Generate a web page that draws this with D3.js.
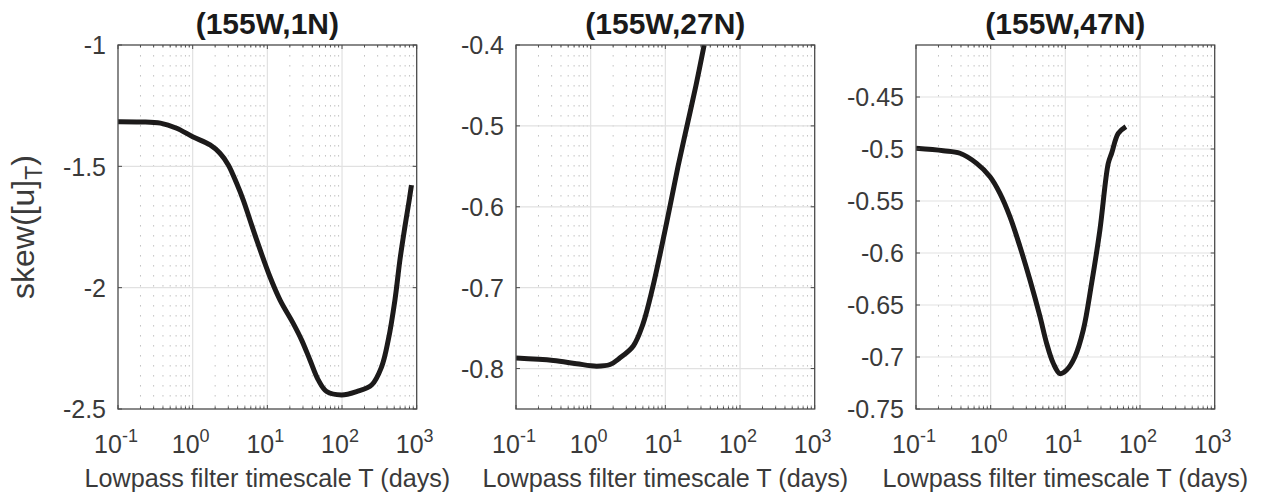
<!DOCTYPE html>
<html><head><meta charset="utf-8">
<script src="https://cdn.jsdelivr.net/npm/d3@7"></script>
<style>
body{margin:0;background:#fff}
svg{display:block}
text{font-family:"Liberation Sans",Arial,Helvetica,sans-serif}
</style>
</head><body>
<svg id="chart" width="1261" height="494"></svg>
<script>
// ---------- data ----------
const titles = ["(155W,1N)", "(155W,27N)", "(155W,47N)"];
const xLabel = "Lowpass filter timescale T (days)";
const xTickValues = [0.1, 1, 10, 100, 1000];
const xTickExponents = ["-1", "0", "1", "2", "3"];

// (155W,1N)
const T1 = [0.1, 0.2, 0.37, 0.61, 1.0, 1.71, 2.32, 3.0, 3.88, 4.76, 5.85, 7.19, 10.8, 14.8, 22.2, 28.8, 37.2, 48, 62.2, 98.9, 157, 249, 339, 416, 511, 596, 695, 794, 851];
const Y1 = [-1.316, -1.317, -1.322, -1.343, -1.378, -1.412, -1.446, -1.494, -1.570, -1.639, -1.721, -1.803, -1.954, -2.051, -2.147, -2.216, -2.298, -2.380, -2.428, -2.442, -2.428, -2.401, -2.326, -2.216, -2.051, -1.886, -1.749, -1.639, -1.577];
const yDomain1 = [-2.5, -1];
const yTicks1 = [-2.5, -2, -1.5, -1];
const yTickLabels1 = ["-2.5", "-2", "-1.5", "-1"];

// (155W,27N)
const T2 = [0.1, 0.316, 0.646, 1.2, 1.82, 2.45, 3.72, 5.01, 6.76, 9.12, 11.5, 14.8, 19.5, 25.7, 33.1];
const Y2 = [-0.787, -0.790, -0.794, -0.797, -0.795, -0.787, -0.772, -0.745, -0.700, -0.645, -0.600, -0.550, -0.500, -0.450, -0.400];
const yDomain2 = [-0.85, -0.4];
const yTicks2 = [-0.8, -0.7, -0.6, -0.5, -0.4];
const yTickLabels2 = ["-0.8", "-0.7", "-0.6", "-0.5", "-0.4"];

// (155W,47N)
const T3 = [0.1, 0.232, 0.388, 0.649, 0.98, 1.33, 1.81, 2.47, 3.36, 4.57, 5.62, 6.89, 8.47, 10.4, 13.4, 17.4, 22.5, 29.0, 37.5, 41.7, 51.1, 64.7];
const Y3 = [-0.4993, -0.5016, -0.5041, -0.5138, -0.5266, -0.5426, -0.565, -0.594, -0.626, -0.661, -0.687, -0.706, -0.716, -0.7125, -0.700, -0.674, -0.629, -0.578, -0.514, -0.504, -0.485, -0.4785];
const yDomain3 = [-0.75, -0.4];
const yTicks3 = [-0.75, -0.7, -0.65, -0.6, -0.55, -0.5, -0.45];
const yTickLabels3 = ["-0.75", "-0.7", "-0.65", "-0.6", "-0.55", "-0.5", "-0.45"];

const yLabelMain = "skew([u]";
const yLabelSub = "T";
const yLabelEnd = ")";

// ---------- layout ----------
const svg = d3.select("#chart");
const plotTop = 45, plotBottom = 409, plotW = 298.7;
const panels = [
  {title: titles[0], T: T1, Y: Y1, yDomain: yDomain1, yTicks: yTicks1, yLabels: yTickLabels1, left: 118},
  {title: titles[1], T: T2, Y: Y2, yDomain: yDomain2, yTicks: yTicks2, yLabels: yTickLabels2, left: 516},
  {title: titles[2], T: T3, Y: Y3, yDomain: yDomain3, yTicks: yTicks3, yLabels: yTickLabels3, left: 916}
];
const axisColor = "#4a4a4a";
const textColor = "#3a3a3a";

const minorTicks = [];
for (let e = -1; e < 3; e++) for (let k = 2; k <= 9; k++) minorTicks.push(k * Math.pow(10, e));

panels.forEach((p, i) => {
  const x = d3.scaleLog().domain([0.1, 1000]).range([p.left, p.left + plotW]);
  const y = d3.scaleLinear().domain(p.yDomain).range([plotBottom, plotTop]);
  const g = svg.append("g");

  g.append("clipPath").attr("id", "clip" + i)
    .append("rect").attr("x", p.left).attr("y", plotTop)
    .attr("width", plotW).attr("height", plotBottom - plotTop);

  // minor grid (dotted)
  g.append("g").selectAll("line").data(minorTicks).join("line")
    .attr("x1", d => x(d)).attr("x2", d => x(d))
    .attr("y1", plotTop).attr("y2", plotBottom)
    .attr("stroke", "#c4c4c4").attr("stroke-width", 1)
    .attr("stroke-dasharray", "1.6,8.4");

  // major grid
  g.append("g").selectAll("line").data(xTickValues.slice(1, -1)).join("line")
    .attr("x1", d => x(d)).attr("x2", d => x(d))
    .attr("y1", plotTop).attr("y2", plotBottom)
    .attr("stroke", "#e1e1e1").attr("stroke-width", 1.2);
  g.append("g").selectAll("line").data(p.yTicks.filter(v => v > p.yDomain[0] && v < p.yDomain[1])).join("line")
    .attr("x1", p.left).attr("x2", p.left + plotW)
    .attr("y1", d => y(d)).attr("y2", d => y(d))
    .attr("stroke", "#e1e1e1").attr("stroke-width", 1.2);

  // curve
  const pts = p.T.map((t, j) => [t, p.Y[j]]);
  const line = d3.line().x(d => x(d[0])).y(d => y(d[1])).curve(d3.curveCatmullRom.alpha(0.5));
  g.append("path").datum(pts).attr("d", line)
    .attr("clip-path", `url(#clip${i})`)
    .attr("fill", "none").attr("stroke", "#1c1a1a").attr("stroke-width", 5)
    .attr("stroke-linejoin", "round").attr("stroke-linecap", "butt");

  // ticks: x major and minor, bottom and top (inward)
  const tk = g.append("g").attr("stroke", axisColor).attr("stroke-width", 1);
  xTickValues.forEach(v => {
    tk.append("line").attr("x1", x(v)).attr("x2", x(v)).attr("y1", plotBottom).attr("y2", plotBottom - 4);
    tk.append("line").attr("x1", x(v)).attr("x2", x(v)).attr("y1", plotTop).attr("y2", plotTop + 4);
  });
  minorTicks.forEach(v => {
    tk.append("line").attr("x1", x(v)).attr("x2", x(v)).attr("y1", plotBottom).attr("y2", plotBottom - 2.5);
    tk.append("line").attr("x1", x(v)).attr("x2", x(v)).attr("y1", plotTop).attr("y2", plotTop + 2.5);
  });
  p.yTicks.forEach(v => {
    tk.append("line").attr("x1", p.left).attr("x2", p.left + 4).attr("y1", y(v)).attr("y2", y(v));
    tk.append("line").attr("x1", p.left + plotW).attr("x2", p.left + plotW - 4).attr("y1", y(v)).attr("y2", y(v));
  });

  // box
  g.append("rect").attr("x", p.left).attr("y", plotTop)
    .attr("width", plotW).attr("height", plotBottom - plotTop)
    .attr("fill", "none").attr("stroke", axisColor).attr("stroke-width", 1.3);

  // y tick labels
  g.append("g").selectAll("text").data(p.yTicks).join("text")
    .attr("x", p.left - 12).attr("y", d => y(d) + 9.3)
    .attr("text-anchor", "end").attr("font-size", 25).attr("fill", textColor)
    .text((d, j) => p.yLabels[j]);

  // x tick labels
  xTickValues.forEach((v, j) => {
    const t = g.append("text").attr("x", x(v) - 2).attr("y", 452.7)
      .attr("text-anchor", "middle").attr("fill", textColor).attr("font-size", 25);
    t.append("tspan").text("10");
    t.append("tspan").attr("font-size", 18).attr("dy", -10.5).text(xTickExponents[j]);
  });

  // x label
  g.append("text").attr("x", p.left + plotW / 2).attr("y", 486.7)
    .attr("text-anchor", "middle").attr("font-size", 25.2).attr("fill", textColor)
    .text(xLabel);

  // title
  g.append("text").attr("x", p.left + plotW / 2).attr("y", 34)
    .attr("text-anchor", "middle").attr("font-size", 30).attr("font-weight", "bold")
    .attr("fill", "#1a1a1a").text(p.title);
});

// y label (first panel)
const yl = svg.append("text")
  .attr("transform", "translate(34,227) rotate(-90)")
  .attr("text-anchor", "middle").attr("font-size", 32).attr("fill", textColor);
yl.append("tspan").text(yLabelMain);
yl.append("tspan").attr("font-size", 23).attr("dy", 8).text(yLabelSub);
yl.append("tspan").attr("font-size", 32).attr("dy", -8).text(yLabelEnd);
</script>
</body></html>
